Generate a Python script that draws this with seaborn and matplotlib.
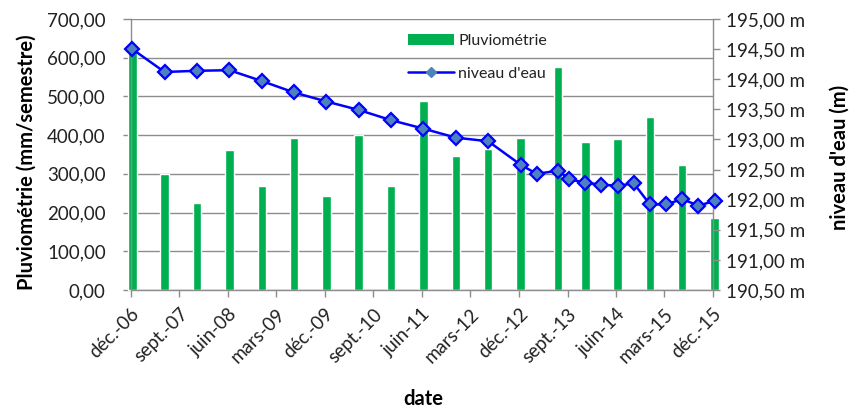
import matplotlib
matplotlib.use("Agg")
import matplotlib.pyplot as plt
import matplotlib.ticker as mticker
from matplotlib.patches import Patch
from matplotlib.lines import Line2D
import seaborn as sns
import pandas as pd

# ---------------- data ----------------
rain_dates = ["2006-12-10", "2007-06-10", "2007-12-10", "2008-06-10", "2008-12-10",
              "2009-06-10", "2009-12-10", "2010-06-10", "2010-12-10", "2011-06-10",
              "2011-12-10", "2012-06-10", "2012-12-10", "2013-07-10", "2013-12-10",
              "2014-06-10", "2014-12-10", "2015-06-10", "2015-12-10"]
rain_mm = [620, 300, 224, 362, 269, 393, 244, 401, 269, 487,
           346, 364, 393, 577, 381, 390, 447, 323, 187]

level_dates = ["2006-12-10", "2007-06-10", "2007-12-10", "2008-06-10", "2008-12-10",
               "2009-06-10", "2009-12-10", "2010-06-10", "2010-12-10", "2011-06-10",
               "2011-12-10", "2012-06-10", "2012-12-10", "2013-03-10", "2013-07-10",
               "2013-09-10", "2013-12-10", "2014-03-10", "2014-06-10", "2014-09-10",
               "2014-12-10", "2015-03-10", "2015-06-10", "2015-09-10", "2015-12-10"]
level_m = [194.50, 194.12, 194.14, 194.15, 193.97, 193.78, 193.63, 193.49, 193.32, 193.18,
           193.03, 192.97, 192.58, 192.43, 192.48, 192.34, 192.28, 192.25, 192.23, 192.27,
           191.92, 191.92, 192.01, 191.90, 191.98]

tick_dates = ["2006-12-01", "2007-09-01", "2008-06-01", "2009-03-01", "2009-12-01",
              "2010-09-01", "2011-06-01", "2012-03-01", "2012-12-01", "2013-09-01",
              "2014-06-01", "2015-03-01", "2015-12-01"]
tick_labels = ["déc.-06", "sept.-07", "juin-08", "mars-09", "déc.-09", "sept.-10",
               "juin-11", "mars-12", "déc.-12", "sept.-13", "juin-14", "mars-15", "déc.-15"]

rain_label = "Pluviométrie"
level_label = "niveau d'eau"

# ---------------- style ----------------
sns.set_style("white")
plt.rcParams['font.family'] = ['Lato', 'DejaVu Sans']

GREEN = "#00B050"
BLUE = "#0000FF"
MARK = "#4F81BD"
GRID = "#8C8C8C"
TXT = "#222222"

fig = plt.figure(figsize=(8.5, 4.08), dpi=100)
ax = fig.add_axes([130.7 / 850, 1 - 290 / 408, (713 - 130.7) / 850, (290 - 19) / 408])
ax2 = ax.twinx()

df_rain = pd.DataFrame({"date": pd.to_datetime(rain_dates), "pluvio": rain_mm})
df_level = pd.DataFrame({"date": pd.to_datetime(level_dates), "niveau": level_m})

ax.bar(df_rain["date"], df_rain["pluvio"], width=48, color=GREEN, zorder=2, clip_on=False)

sns.lineplot(data=df_level, x="date", y="niveau", ax=ax2, color=BLUE, linewidth=1.8,
             marker="D", markersize=7.2, markerfacecolor=MARK, markeredgecolor=BLUE,
             markeredgewidth=1.6, clip_on=False, legend=False, zorder=3)

ticks = pd.to_datetime(tick_dates)
ax.set_xlim(ticks[0], ticks[-1])
ax.set_xticks(ticks)
ax.set_xticklabels(tick_labels, rotation=45, ha="right", va="top",
                   rotation_mode="anchor", fontsize=13.5, color=TXT)

ax.set_ylim(0, 700)
ax.set_yticks(range(0, 701, 100))
ax.yaxis.set_major_formatter(mticker.FuncFormatter(lambda v, p: f"{v:.2f}".replace(".", ",")))
ax2.set_ylim(190.5, 195.0)
ax2.set_yticks([190.5 + 0.5 * i for i in range(10)])
ax2.yaxis.set_major_formatter(mticker.FuncFormatter(lambda v, p: f"{v:.2f} m".replace(".", ",")))

ax.grid(axis="y", color=GRID, linewidth=1.0)
ax.grid(axis="x", visible=False)
ax2.grid(False)
ax.set_axisbelow(True)

for a in (ax, ax2):
    for s in a.spines.values():
        s.set_visible(False)
ax.spines["left"].set_visible(True)
ax.spines["bottom"].set_visible(True)
ax2.spines["right"].set_visible(True)
for s in (ax.spines["left"], ax.spines["bottom"], ax2.spines["right"]):
    s.set_color(GRID)
    s.set_linewidth(1.0)

ax.tick_params(axis="y", direction="out", length=6, width=1, color=GRID, pad=12,
               labelsize=13.5, labelcolor=TXT, left=True)
ax.tick_params(axis="x", direction="out", length=5, width=1, color=GRID, pad=6, bottom=True)
ax2.tick_params(axis="y", direction="out", length=5, width=1, color=GRID, pad=4,
                labelsize=13.5, labelcolor=TXT, right=True)

ax.set_xlabel("date", fontsize=14.5, fontweight="bold", color="black")
ax.xaxis.set_label_coords(0.502, -0.365)
ax.set_ylabel("Pluviométrie (mm/semestre)", fontsize=14.5, fontweight="bold", color="black")
ax.yaxis.set_label_coords(-0.162, 0.47)
ax2.set_ylabel("niveau d'eau (m)", fontsize=14.5, fontweight="bold", color="black")
ax2.yaxis.set_label_coords(1.2, 0.49)

handles = [Patch(facecolor=GREEN, edgecolor="none"),
           Line2D([0], [0], color=BLUE, linewidth=1.8, marker="D", markersize=5,
                  markerfacecolor=MARK, markeredgecolor=MARK)]
leg = ax2.legend(handles, [rain_label, level_label], loc="upper left",
                 bbox_to_anchor=(400 / 850, 1 - 26 / 408), bbox_transform=fig.transFigure,
                 frameon=False, fontsize=11.5, handlelength=2.9, handletextpad=0.25,
                 labelspacing=1.15, borderpad=0)
for t in leg.get_texts():
    t.set_color(TXT)

fig.savefig("out.png", dpi=100)
